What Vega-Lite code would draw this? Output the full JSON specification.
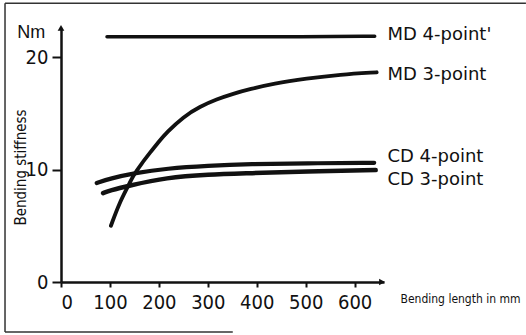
{
  "$schema": "https://vega.github.io/schema/vega-lite/v6.json",
  "width": 323,
  "height": 253,
  "autosize": {"type": "none"},
  "padding": {"left": 61, "top": 29, "right": 142, "bottom": 53},
  "background": "white",
  "config": {
    "view": {"stroke": null},
    "font": "Liberation Sans Narrow, DejaVu Sans Condensed, sans-serif"
  },
  "datasets": {
    "curves": [
      {"series": "MD 4-point", "x": 94, "y": 21.8},
      {"series": "MD 4-point", "x": 300, "y": 21.8},
      {"series": "MD 4-point", "x": 500, "y": 21.82},
      {"series": "MD 4-point", "x": 641, "y": 21.85},
      {"series": "MD 3-point", "x": 102, "y": 5.0},
      {"series": "MD 3-point", "x": 119, "y": 7.0},
      {"series": "MD 3-point", "x": 137, "y": 8.5},
      {"series": "MD 3-point", "x": 148, "y": 9.5},
      {"series": "MD 3-point", "x": 165, "y": 10.55},
      {"series": "MD 3-point", "x": 182, "y": 11.5},
      {"series": "MD 3-point", "x": 199, "y": 12.45},
      {"series": "MD 3-point", "x": 216, "y": 13.3},
      {"series": "MD 3-point", "x": 250, "y": 14.7},
      {"series": "MD 3-point", "x": 284, "y": 15.6},
      {"series": "MD 3-point", "x": 318, "y": 16.25},
      {"series": "MD 3-point", "x": 352, "y": 16.75},
      {"series": "MD 3-point", "x": 386, "y": 17.15},
      {"series": "MD 3-point", "x": 434, "y": 17.65},
      {"series": "MD 3-point", "x": 502, "y": 18.1},
      {"series": "MD 3-point", "x": 570, "y": 18.45},
      {"series": "MD 3-point", "x": 645, "y": 18.65},
      {"series": "CD 4-point", "x": 73, "y": 8.8},
      {"series": "CD 4-point", "x": 100, "y": 9.2},
      {"series": "CD 4-point", "x": 151, "y": 9.7},
      {"series": "CD 4-point", "x": 216, "y": 10.1},
      {"series": "CD 4-point", "x": 300, "y": 10.35},
      {"series": "CD 4-point", "x": 386, "y": 10.5},
      {"series": "CD 4-point", "x": 500, "y": 10.55},
      {"series": "CD 4-point", "x": 640, "y": 10.6},
      {"series": "CD 3-point", "x": 86, "y": 7.9},
      {"series": "CD 3-point", "x": 100, "y": 8.15},
      {"series": "CD 3-point", "x": 137, "y": 8.55},
      {"series": "CD 3-point", "x": 216, "y": 9.3},
      {"series": "CD 3-point", "x": 300, "y": 9.55},
      {"series": "CD 3-point", "x": 386, "y": 9.67},
      {"series": "CD 3-point", "x": 500, "y": 9.85},
      {"series": "CD 3-point", "x": 643, "y": 9.95}
    ],
    "labels": [
      {"label": "MD 4-point'", "x": 667, "y": 21.95},
      {"label": "MD 3-point", "x": 667, "y": 18.4},
      {"label": "CD 4-point", "x": 667, "y": 11.1},
      {"label": "CD 3-point", "x": 667, "y": 9.07}
    ],
    "one": [{}]
  },
  "layer": [
    {
      "data": {"name": "curves"},
      "mark": {"type": "line", "color": "#111111", "strokeCap": "round", "interpolate": "basis"},
      "encoding": {
        "x": {
          "field": "x", "type": "quantitative",
          "scale": {"domain": [0, 660], "nice": false, "zero": false},
          "axis": {
            "values": [0, 100, 200, 300, 400, 500, 600],
            "grid": false,
            "domainColor": "#111111", "domainWidth": 2.5,
            "tickColor": "#111111", "tickWidth": 2, "tickSize": 5,
            "labelFontSize": 20, "labelColor": "#111111", "labelPadding": 5,
            "title": "Bending length in mm",
            "titleFontSize": 12, "titleFontWeight": "normal", "titleColor": "#111111",
            "titleX": 339, "titleY": 16, "titleAlign": "left", "titleBaseline": "middle",
            "titleAnchor": null
          }
        },
        "y": {
          "field": "y", "type": "quantitative",
          "scale": {"domain": [0, 22.5], "nice": false},
          "axis": {
            "values": [0, 10, 20],
            "grid": false,
            "domainColor": "#111111", "domainWidth": 2.5,
            "tickColor": "#111111", "tickWidth": 2, "tickSize": 9,
            "labelFontSize": 20, "labelColor": "#111111", "labelPadding": 4,
            "title": "Bending stiffness",
            "titleFontSize": 15, "titleFontWeight": "normal", "titleColor": "#111111",
            "titleX": -41, "titleY": 138, "titleAngle": 270,
            "titleAlign": "center", "titleBaseline": "middle"
          }
        },
        "detail": {"field": "series"},
        "strokeWidth": {
          "field": "series", "type": "nominal",
          "scale": {"domain": ["MD 4-point", "MD 3-point", "CD 4-point", "CD 3-point"], "range": [3.5, 4.5, 3.2, 3.2]},
          "legend": null
        }
      }
    },
    {
      "data": {"name": "labels"},
      "mark": {"type": "text", "align": "left", "baseline": "middle", "fontSize": 18, "font": "DejaVu Sans, sans-serif", "color": "#111111"},
      "encoding": {
        "x": {"field": "x", "type": "quantitative"},
        "y": {"field": "y", "type": "quantitative"},
        "text": {"field": "label"}
      }
    },
    {
      "data": {"name": "one"},
      "mark": {"type": "text", "text": "Nm", "align": "center", "baseline": "middle", "fontSize": 18, "font": "Liberation Sans, sans-serif", "color": "#111111"},
      "encoding": {"x": {"datum": -61}, "y": {"datum": 22.15}}
    },
    {
      "data": {"name": "one"},
      "mark": {"type": "point", "shape": "triangle-up", "filled": true, "size": 45, "color": "#111111", "opacity": 1},
      "encoding": {"x": {"datum": 0}, "y": {"datum": 22.6}}
    },
    {
      "data": {"name": "one"},
      "mark": {"type": "point", "shape": "triangle-right", "filled": true, "size": 45, "color": "#111111", "opacity": 1},
      "encoding": {"x": {"datum": 656}, "y": {"datum": 0}}
    },
    {
      "data": {"name": "one"},
      "mark": {"type": "rule", "color": "#333333", "strokeWidth": 1.5},
      "encoding": {"x": {"datum": -114.4}, "y": {"datum": -4.45}, "y2": {"datum": 24.8}}
    },
    {
      "data": {"name": "one"},
      "mark": {"type": "rule", "color": "#333333", "strokeWidth": 1.5},
      "encoding": {"y": {"datum": 24.8}, "x": {"datum": -114.4}, "x2": {"datum": 950}}
    },
    {
      "data": {"name": "one"},
      "mark": {"type": "rule", "color": "#333333", "strokeWidth": 1.5},
      "encoding": {"y": {"datum": -4.45}, "x": {"datum": -114.4}, "x2": {"datum": 351}}
    }
  ]
}
